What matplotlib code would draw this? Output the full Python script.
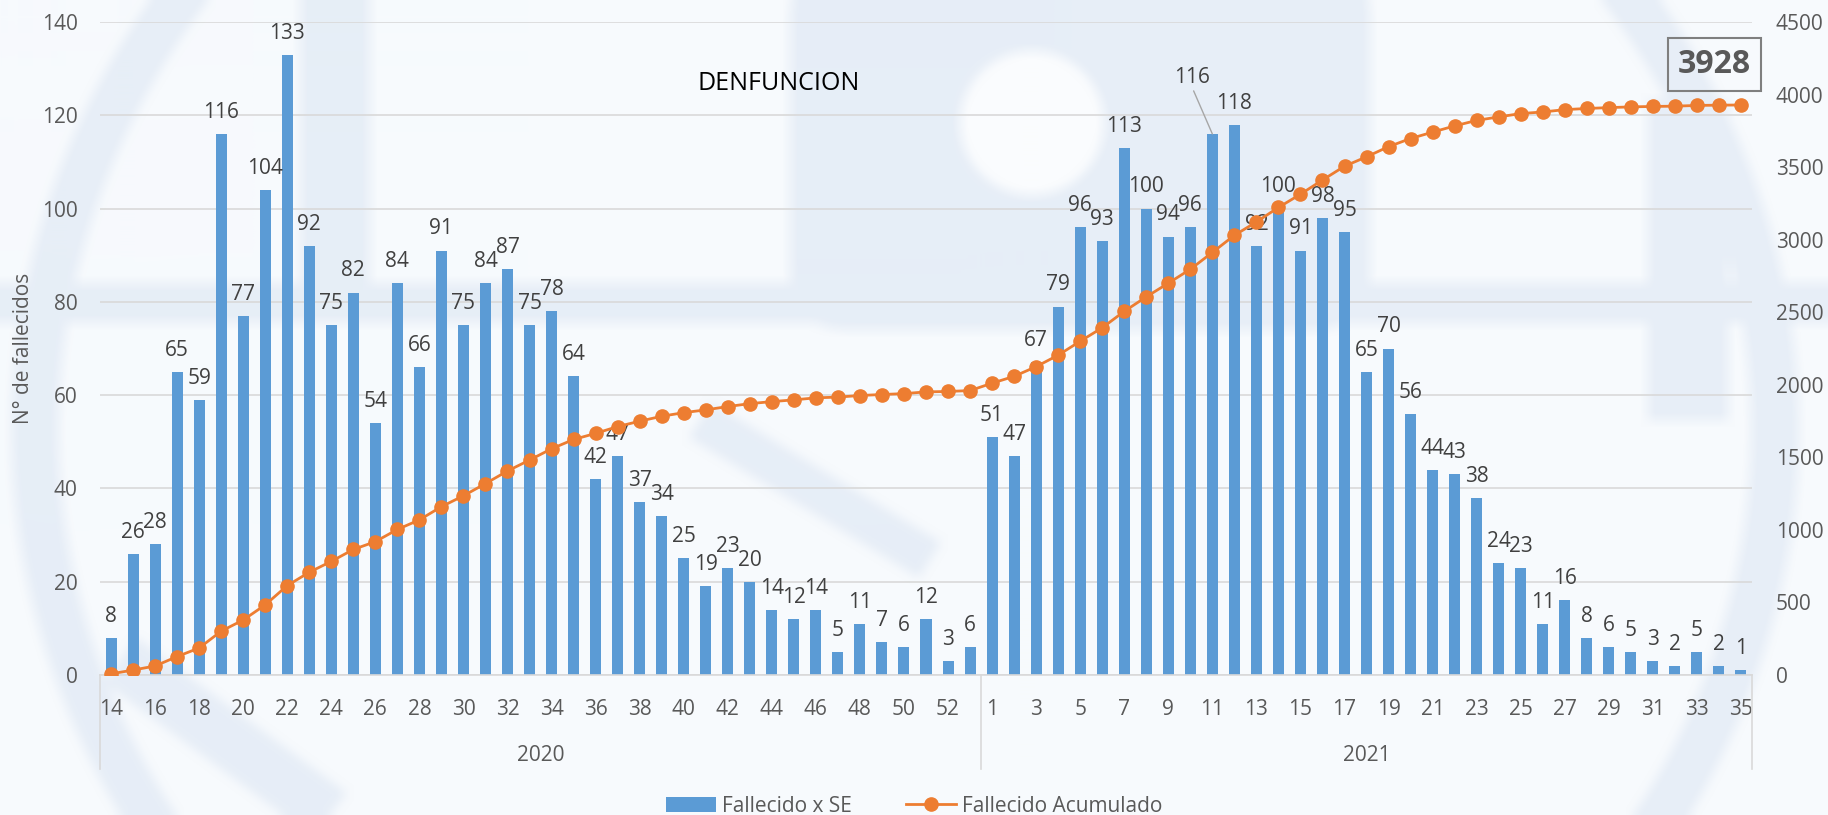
import numpy as np
import matplotlib.pyplot as plt
from matplotlib.patches import Ellipse, Circle, Rectangle, FancyBboxPatch, Patch
from matplotlib.lines import Line2D

plt.rcParams['font.family'] = ['Open Sans', 'DejaVu Sans']

# semanas epidemiologicas
semanas_2020 = list(range(14, 54))
semanas_2021 = list(range(1, 36))

fallecidos_2020 = [8, 26, 28, 65, 59, 116, 77, 104, 133, 92, 75, 82, 54, 84, 66,
                   91, 75, 84, 87, 75, 78, 64, 42, 47, 37, 34, 25, 19, 23, 20,
                   14, 12, 14, 5, 11, 7, 6, 12, 3, 6]
fallecidos_2021 = [51, 47, 67, 79, 96, 93, 113, 100, 94, 96, 116, 118, 92, 100,
                   91, 98, 95, 65, 70, 56, 44, 43, 38, 24, 23, 11, 16, 8, 6, 5,
                   3, 2, 5, 2, 1]

acumulado = [8, 34, 62, 127, 186, 302, 379, 483, 616, 708, 783, 865, 919, 1003,
             1069, 1160, 1235, 1319, 1406, 1481, 1559, 1623, 1665, 1712, 1749,
             1783, 1808, 1827, 1850, 1870, 1884, 1896, 1910, 1915, 1926, 1933,
             1939, 1951, 1954, 1960,
             2011, 2058, 2125, 2204, 2300, 2393, 2506, 2606, 2700, 2796, 2912,
             3030, 3122, 3222, 3313, 3411, 3506, 3571, 3641, 3697, 3741, 3784,
             3822, 3846, 3869, 3880, 3896, 3904, 3910, 3915, 3918, 3920, 3925,
             3927, 3928]

anios = ['2020', '2021']

AZUL = '#5B9BD5'
NARANJA = '#ED7D31'
GRIS_TXT = '#595959'
GRIS_LBL = '#404040'
GRID = '#D9D9D9'
FONDO = '#F7FAFD'
MARCA = '#E7EEF7'

W, H = 1828, 815
semanas = semanas_2020 + semanas_2021
fallecidos = fallecidos_2020 + fallecidos_2021
x = list(range(len(semanas)))


def marca_de_agua():
    """Dibuja el logo de fondo en una figura aparte y lo devuelve difuminado."""
    wf = plt.figure(figsize=(W / 100, H / 100), dpi=100, facecolor=FONDO)
    wa = wf.add_axes([0, 0, 1, 1])
    wa.set_xlim(0, W)
    wa.set_ylim(H, 0)
    wa.axis('off')
    wa.add_patch(Ellipse((905, 430), 1740, 1560, fill=False, lw=34, ec=MARCA))
    wa.add_patch(Rectangle((0, 283), W, 40, fc=MARCA, ec='none'))
    wa.add_patch(FancyBboxPatch((790, -40), 580, 370,
                                boxstyle='round,pad=0,rounding_size=60',
                                fc=MARCA, ec='none'))
    wa.add_patch(Circle((1032, 123), 72, fc='#FAFCFE', ec='none'))
    wa.add_patch(Rectangle((1648, 100), 80, 320, fc=MARCA, ec='none'))
    wa.add_patch(Rectangle((300, 0), 70, 290, fc=MARCA, ec='none'))
    wa.plot([120, 330], [660, 815], color=MARCA, lw=40, solid_capstyle='butt')
    wa.plot([700, 930], [420, 560], color=MARCA, lw=30, solid_capstyle='butt')
    wf.canvas.draw()
    img = np.asarray(wf.canvas.buffer_rgba())[..., :3].astype(float) / 255
    plt.close(wf)

    # desenfoque de caja en ambos ejes
    r = 7
    k = 2 * r + 1
    for eje in (0, 1):
        pad = [(0, 0)] * 3
        pad[eje] = (r + 1, r)
        c = np.pad(img, pad, mode='edge').cumsum(axis=eje)
        img = (np.take(c, range(k, c.shape[eje]), axis=eje)
               - np.take(c, range(0, c.shape[eje] - k), axis=eje)) / k
    return np.clip(img, 0, 1)


fig = plt.figure(figsize=(W / 100, H / 100), dpi=100, facecolor=FONDO)

bg = fig.add_axes([0, 0, 1, 1], zorder=-1)
bg.imshow(marca_de_agua(), extent=(0, W, H, 0), aspect='auto', interpolation='bilinear')
bg.set_xlim(0, W)
bg.set_ylim(H, 0)
bg.axis('off')

ax = fig.add_axes([100 / W, 1 - 675 / H, 1652 / W, 653 / H])
ax.set_facecolor('none')
ax2 = ax.twinx()

ax.bar(x, fallecidos, width=0.5, color=AZUL, zorder=2)
ax.set_xlim(-0.5, len(x) - 0.5)
ax.set_ylim(0, 140)
ax.set_yticks(range(0, 141, 20))
ax.grid(axis='y', color=GRID, lw=1.2, zorder=0)
ax.set_axisbelow(True)

for s in ['top', 'left', 'right']:
    ax.spines[s].set_visible(False)
    ax2.spines[s].set_visible(False)
ax.spines['bottom'].set_color(GRID)
ax.spines['bottom'].set_linewidth(1.2)
ax2.spines['bottom'].set_visible(False)

# etiquetas de datos sobre cada barra
for i, v in zip(x, fallecidos):
    if semanas[i] == 11 and i >= len(semanas_2020):
        ax.annotate(str(v), (i, v), xytext=(-15, 33), textcoords='offset points',
                    ha='center', va='bottom', fontsize=15, color=GRIS_LBL,
                    arrowprops=dict(arrowstyle='-', color='#A6A6A6', lw=1,
                                    shrinkA=0, shrinkB=0, relpos=(0.5, 0.1)))
    else:
        ax.annotate(str(v), (i, v), xytext=(0, 8), textcoords='offset points',
                    ha='center', va='bottom', fontsize=15, color=GRIS_LBL)

ticks = x[::2]
ax.set_xticks(ticks)
ax.set_xticklabels([str(semanas[i]) for i in ticks])
ax.tick_params(axis='x', length=0, pad=17, labelsize=15, labelcolor=GRIS_TXT)
ax.tick_params(axis='y', length=0, pad=16, labelsize=15, labelcolor=GRIS_TXT)

# eje de categorias en dos niveles (semana / anio)
n20 = len(semanas_2020)
trans = ax.get_xaxis_transform()
for xs in [-0.5, n20 - 0.5, len(x) - 0.5]:
    ax.plot([xs, xs], [0, -0.144], transform=trans, color=GRID, lw=1.2, clip_on=False)
ax.text((n20 - 1) / 2, -0.123, anios[0], transform=trans, ha='center', va='center',
        fontsize=15, color=GRIS_TXT)
ax.text(n20 + (len(semanas_2021) - 1) / 2, -0.123, anios[1], transform=trans,
        ha='center', va='center', fontsize=15, color=GRIS_TXT)

ax.set_ylabel('N° de fallecidos', fontsize=15, color=GRIS_TXT)
ax.yaxis.set_label_coords(-0.040, 0.5)

# serie acumulada en eje secundario
ax2.plot(x, acumulado, color=NARANJA, lw=2, marker='o', ms=9.5, zorder=3)
ax2.set_ylim(0, 4500)
ax2.set_yticks(range(0, 4501, 500))
ax2.tick_params(axis='y', length=0, pad=17, labelsize=15, labelcolor=GRIS_TXT)

ax2.annotate(str(acumulado[-1]), (x[-1], acumulado[-1]), xytext=(-19, 29),
             textcoords='offset points', ha='center', va='center', fontsize=23,
             fontweight='bold', color=GRIS_TXT,
             bbox=dict(boxstyle='square,pad=0.32', fc='none', ec='#7F7F7F', lw=1.5))

fig.text(779 / W, 1 - 84 / H, 'DENFUNCION', ha='center', va='center',
         fontsize=18, color='black')

handles = [Patch(facecolor=AZUL, edgecolor='none'),
           Line2D([], [], color=NARANJA, lw=2, marker='o', ms=9.5)]
fig.legend(handles, ['Fallecido x SE', 'Fallecido Acumulado'], loc='center',
           bbox_to_anchor=(0.5, 1 - 806 / H), ncol=2, frameon=False, fontsize=15,
           labelcolor=GRIS_TXT, handlelength=2.4, handletextpad=0.3, columnspacing=2.6)

fig.savefig('out.png', dpi=100, facecolor=fig.get_facecolor())
